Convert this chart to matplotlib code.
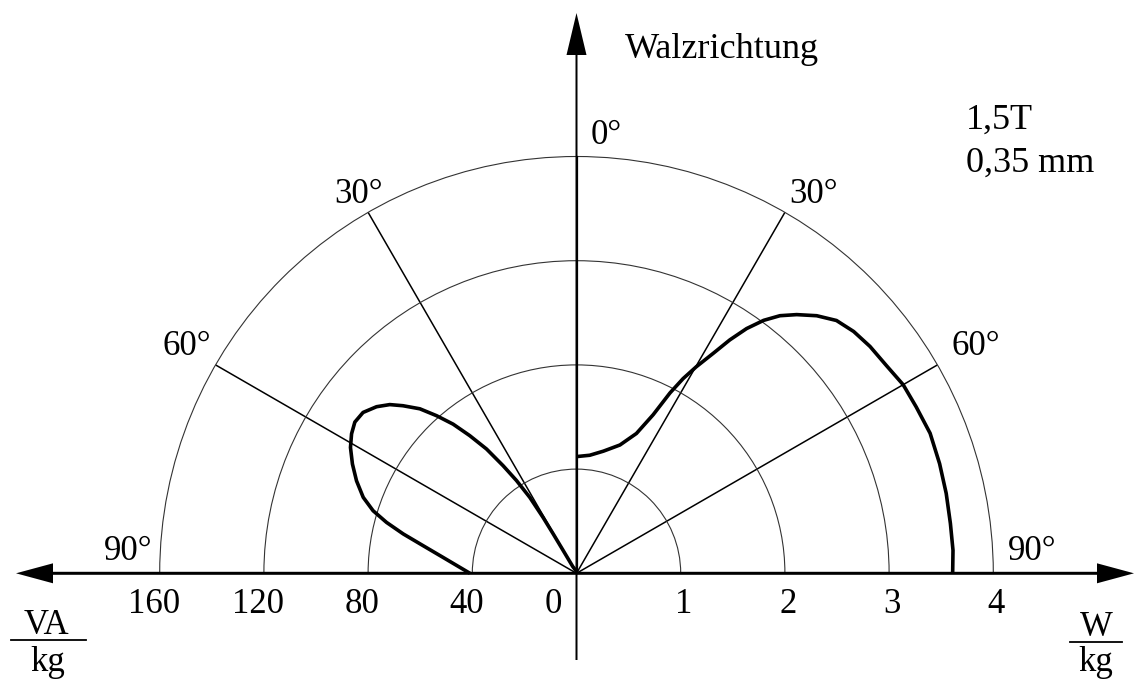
import numpy as np
import matplotlib.pyplot as plt

plt.rcParams['font.family'] = ['Liberation Serif', 'DejaVu Serif']

# Ummagnetisierungsverluste in W/kg ueber dem Winkel zur Walzrichtung (rechte Haelfte)
winkel_w = [0, 6.4, 12.4, 18.7, 23.2, 25.8, 27.4, 28.7, 30.1, 31.9, 33.3, 34.8,
            36.5, 38.3, 40.4, 43.0, 45.8, 48.9, 52.3, 56.1, 60.0, 63.9, 68.4,
            73.2, 77.8, 82.4, 86.5, 90]
verlust_w = [1.12, 1.14, 1.20, 1.30, 1.46, 1.69, 1.95, 2.13, 2.29, 2.49, 2.68, 2.86,
             3.02, 3.15, 3.26, 3.38, 3.48, 3.53, 3.56, 3.58, 3.62, 3.63, 3.65,
             3.64, 3.63, 3.62, 3.62, 3.61]

# Scheinleistung in VA/kg (linke Haelfte)
winkel_va = [0, 20, 29, 30.3, 30.6, 30.9, 31.6, 32.9, 34.3, 35.9, 37.8, 39.6,
             41.6, 43.6, 46.0, 47.9, 50.2, 53.0, 55.7, 58.2, 60.9, 64.0, 67.2,
             70.4, 72.9, 75.0, 77.2, 79.8, 83.2, 87.1, 90]
leistung_va = [1.0, 1.5, 3.0, 10.1, 17.6, 25.0, 34.2, 42.4, 50.0, 58.9, 66.9, 74.3,
               80.9, 87.2, 92.6, 96.6, 99.9, 102.6, 103.0, 101.6, 99.3, 95.7, 91.6,
               86.9, 81.7, 75.5, 68.2, 59.8, 51.6, 44.8, 40.9]

ticks_w = [1, 2, 3, 4]
ticks_va = [40, 80, 120, 160]
winkel_ticks = [30, 60]

W, H = 1135, 679
x0, y0 = 576.5, 573.3      # Ursprung in Pixeln (von oben)
rad = 416.8                # Radius des aeusseren Kreises in Pixeln

fig = plt.figure(figsize=(W / 100, H / 100), dpi=100)
fig.patch.set_facecolor('white')

fs = 25

def setup(ax, rmax, rgrid, direction):
    ax.set_theta_zero_location('N')
    ax.set_theta_direction(direction)
    ax.set_thetamin(0)
    ax.set_thetamax(90)
    ax.set_rlim(0, rmax)
    ax.set_rgrids(rgrid, labels=[''] * len(rgrid))
    ax.set_thetagrids(winkel_ticks, labels=[''] * len(winkel_ticks))
    ax.yaxis.grid(True, color='#333333', lw=0.8)
    ax.xaxis.grid(True, color='black', lw=1.1)
    ax.tick_params(length=0)
    ax.patch.set_alpha(0)
    for s in ['start', 'end', 'inner']:
        ax.spines[s].set_visible(False)
    ax.spines['polar'].set_color('#333333')
    ax.spines['polar'].set_linewidth(0.8)

bottom = (H - y0) / H
axR = fig.add_axes([x0 / W, bottom, rad / W, rad / H], projection='polar')
axL = fig.add_axes([(x0 - rad) / W, bottom, rad / W, rad / H], projection='polar')
setup(axR, ticks_w[-1], ticks_w[:-1], -1)
setup(axL, ticks_va[-1], ticks_va[:-1], 1)

axR.plot(np.deg2rad(winkel_w), verlust_w, color='black', lw=2.6, clip_on=False,
         solid_capstyle='butt', solid_joinstyle='round')
axL.plot(np.deg2rad(winkel_va), leistung_va, color='black', lw=2.6, clip_on=False,
         solid_capstyle='butt', solid_joinstyle='round')

# Achsbeschriftungen unter der Waagerechten
for v in ticks_w:
    axR.annotate(str(v), xy=(np.pi / 2, v), xytext=(3, -40), textcoords='offset pixels',
                 ha='center', va='baseline', fontsize=fs, annotation_clip=False)
for v in ticks_va:
    axL.annotate(str(v), xy=(np.pi / 2, v), xytext=(-6, -40), textcoords='offset pixels',
                 ha='center', va='baseline', fontsize=fs, annotation_clip=False)
axL.annotate('0', xy=(np.pi / 2, 0), xytext=(-23, -40), textcoords='offset pixels',
             ha='center', va='baseline', fontsize=fs, annotation_clip=False)

# Winkelangaben am aeusseren Kreis
winkel_off_r = {0: (30, 13), 30: (29, 9), 60: (38, 10), 90: (39, 13)}
winkel_off_l = {30: (-10, 9), 60: (-29, 10), 90: (-32, 13)}
for a, off in winkel_off_r.items():
    axR.annotate(f'{a}°', xy=(np.deg2rad(a), ticks_w[-1]), xytext=off,
                 textcoords='offset pixels', ha='center', va='baseline',
                 fontsize=fs, annotation_clip=False)
for a, off in winkel_off_l.items():
    axL.annotate(f'{a}°', xy=(np.deg2rad(a), ticks_va[-1]), xytext=off,
                 textcoords='offset pixels', ha='center', va='baseline',
                 fontsize=fs, annotation_clip=False)

# Achsen mit Pfeilen und Texte in Pixelkoordinaten
ov = fig.add_axes([0, 0, 1, 1])
ov.set_xlim(0, W)
ov.set_ylim(H, 0)
ov.axis('off')

ov.arrow(x0, y0, 1134 - x0, 0, width=3, head_width=20, head_length=37,
         length_includes_head=True, fc='black', ec='none')
ov.arrow(x0, y0, 16 - x0, 0, width=3, head_width=20, head_length=37,
         length_includes_head=True, fc='black', ec='none')
ov.arrow(x0, 660, 0, 13 - 660, width=2, head_width=20, head_length=42,
         length_includes_head=True, fc='black', ec='none')

ov.text(625, 58, 'Walzrichtung', fontsize=26, ha='left', va='baseline')
ov.text(966, 129, '1,5T', fontsize=26, ha='left', va='baseline')
ov.text(966, 172, '0,35 mm', fontsize=26, ha='left', va='baseline')

# Einheiten als Bruch
ov.text(46, 634, 'VA', fontsize=fs, ha='center', va='baseline')
ov.plot([11, 86], [640, 640], color='black', lw=1.3)
ov.text(48, 671, 'kg', fontsize=fs, ha='center', va='baseline')

ov.text(1096, 636, 'W', fontsize=fs, ha='center', va='baseline')
ov.plot([1070, 1122], [642, 642], color='black', lw=1.3)
ov.text(1096, 671, 'kg', fontsize=fs, ha='center', va='baseline')

fig.savefig('out.png', dpi=100)
